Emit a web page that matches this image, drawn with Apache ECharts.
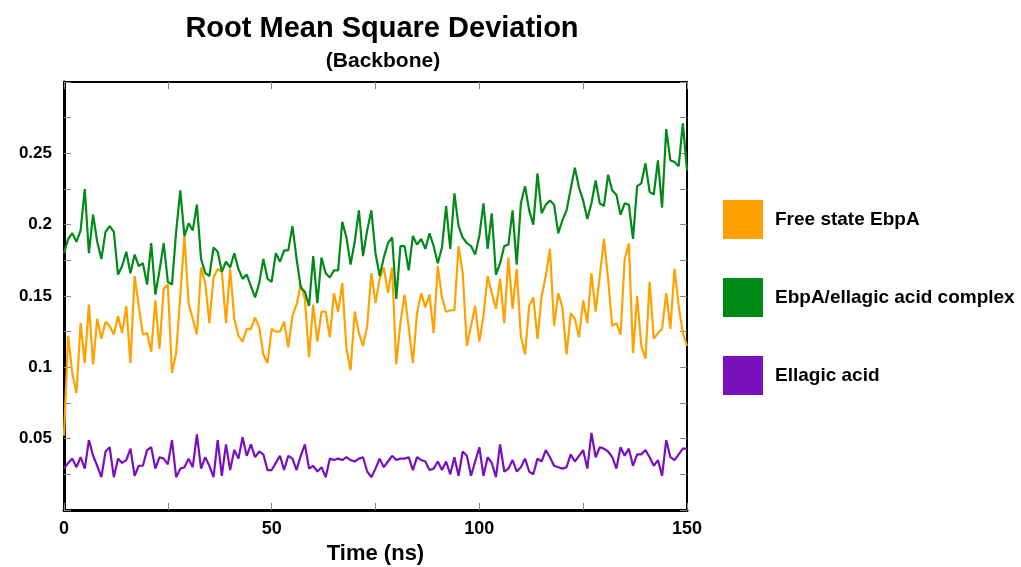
<!DOCTYPE html>
<html>
<head>
<meta charset="utf-8">
<script src="https://cdn.jsdelivr.net/npm/echarts@6/dist/echarts.min.js"></script>
<style>html,body{margin:0;padding:0;background:#fff}#c{width:1021px;height:567px}</style>
</head>
<body>
<div id="c"></div>
<script>
// Time in ns (one sample per ns, index = time)
const seriesNames = ['Free state EbpA', 'EbpA/ellagic acid complex', 'Ellagic acid'];
const xTickLabels = [0, 50, 100, 150];
const yTickLabels = [0.05, 0.1, 0.15, 0.2, 0.25];

const freeState = [
0.052,0.122,0.096,0.082,0.131,0.103,0.144,0.102,0.134,0.120,0.132,0.129,0.123,0.136,0.124,0.143,0.103,0.164,0.143,0.123,0.124,0.111,0.147,0.113,0.155,0.158,
0.096,0.110,0.150,0.192,0.145,0.134,0.123,0.170,0.159,0.131,0.163,0.169,0.167,0.131,0.169,0.134,0.122,0.118,0.127,0.127,0.135,0.128,0.109,0.103,0.127,
0.125,0.125,0.132,0.114,0.136,0.144,0.158,0.148,0.107,0.144,0.118,0.139,0.139,0.121,0.152,0.139,0.159,0.113,0.098,0.139,0.124,0.115,0.129,0.166,0.145,
0.162,0.170,0.152,0.170,0.102,0.131,0.151,0.128,0.103,0.138,0.152,0.142,0.151,0.124,0.171,0.149,0.139,0.140,0.140,0.185,0.166,0.115,0.129,0.143,0.118,
0.136,0.164,0.152,0.141,0.162,0.131,0.177,0.141,0.169,0.122,0.109,0.143,0.149,0.120,0.150,0.164,0.183,0.129,0.152,0.142,0.109,0.138,0.134,0.121,0.147,
0.131,0.166,0.139,0.164,0.190,0.162,0.129,0.131,0.123,0.176,0.187,0.110,0.150,0.115,0.106,0.160,0.120,0.124,0.127,0.152,0.127,0.169,0.143,0.124,0.115
];
const complexEA = [
0.180,0.190,0.194,0.188,0.196,0.225,0.180,0.207,0.188,0.176,0.195,0.199,0.195,0.165,0.171,0.181,0.166,0.179,0.171,0.173,0.158,0.187,0.151,0.168,0.187,0.160,
0.158,0.195,0.224,0.192,0.201,0.196,0.214,0.176,0.166,0.164,0.184,0.181,0.167,0.174,0.170,0.180,0.169,0.162,0.165,0.157,0.149,0.159,0.176,0.162,0.160,
0.180,0.174,0.182,0.182,0.199,0.176,0.156,0.153,0.143,0.178,0.145,0.177,0.166,0.163,0.168,0.168,0.202,0.191,0.172,0.188,0.210,0.178,0.196,0.210,0.180,
0.164,0.177,0.187,0.191,0.148,0.185,0.185,0.168,0.192,0.186,0.190,0.183,0.194,0.185,0.173,0.184,0.213,0.183,0.222,0.199,0.191,0.187,0.185,0.179,0.192,
0.215,0.183,0.208,0.165,0.173,0.185,0.186,0.210,0.172,0.215,0.227,0.210,0.200,0.236,0.208,0.214,0.217,0.214,0.194,0.203,0.210,0.225,0.240,0.226,0.217,
0.204,0.215,0.231,0.215,0.213,0.235,0.224,0.221,0.207,0.215,0.214,0.190,0.227,0.229,0.243,0.223,0.221,0.245,0.212,0.267,0.245,0.244,0.241,0.271,0.238
];
const ellagic = [
0.029,0.033,0.036,0.030,0.037,0.029,0.049,0.038,0.031,0.023,0.041,0.044,0.023,0.036,0.033,0.035,0.043,0.024,0.031,0.031,0.042,0.044,0.029,0.037,0.036,0.032,
0.049,0.023,0.029,0.030,0.036,0.030,0.053,0.029,0.037,0.031,0.023,0.049,0.024,0.046,0.028,0.042,0.036,0.051,0.038,0.046,0.037,0.041,0.039,0.028,0.028,
0.033,0.038,0.028,0.038,0.036,0.028,0.038,0.046,0.029,0.031,0.027,0.030,0.023,0.036,0.035,0.036,0.035,0.037,0.035,0.034,0.036,0.037,0.027,0.023,0.029,
0.036,0.030,0.034,0.038,0.035,0.036,0.036,0.037,0.028,0.037,0.035,0.034,0.028,0.029,0.034,0.028,0.034,0.025,0.037,0.024,0.041,0.038,0.024,0.034,0.044,
0.024,0.037,0.033,0.023,0.046,0.027,0.029,0.035,0.027,0.030,0.036,0.027,0.025,0.036,0.034,0.042,0.037,0.031,0.030,0.029,0.030,0.039,0.034,0.038,0.042,
0.029,0.054,0.037,0.044,0.043,0.041,0.037,0.029,0.044,0.038,0.043,0.031,0.039,0.039,0.042,0.037,0.031,0.035,0.024,0.049,0.037,0.035,0.039,0.043,0.043
];

const colors = ['#FFA200', '#008A17', '#7A0FBE'];
const font = 'Liberation Sans, Arial, sans-serif';
const toPairs = arr => arr.map((v, i) => [i, v]);

const chart = echarts.init(document.getElementById('c'), null, {renderer: 'canvas'});
const tickStyle = {show: true, inside: true, length: 7, lineStyle: {color: '#888', width: 1}};
const near = (v, list) => list.some(t => Math.abs(t - v) < 1e-6);

chart.setOption({
  backgroundColor: '#fff',
  animation: false,
  title: [
    {text: 'Root Mean Square Deviation', left: 377, top: 9, textAlign: 'center',
     textStyle: {fontFamily: font, fontSize: 29, fontWeight: 'bold', color: '#000'}},
    {text: '(Backbone)', left: 378, top: 46, textAlign: 'center',
     textStyle: {fontFamily: font, fontSize: 21, fontWeight: 'bold', color: '#000'}}
  ],
  legend: {
    orient: 'vertical', left: 718, top: 195, icon: 'rect',
    itemWidth: 40, itemHeight: 39, itemGap: 39,
    textStyle: {fontFamily: font, fontSize: 19, fontWeight: 'bold', color: '#000', padding: [0, 0, 0, 7]},
    data: seriesNames
  },
  grid: {left: 64, right: 334, top: 82, bottom: 57, containLabel: false, outerBoundsMode: 'none'},
  xAxis: [
    {type: 'value', min: 0, max: 150, interval: 25, position: 'bottom',
     name: 'Time (ns)', nameLocation: 'middle', nameGap: 32,
     nameTextStyle: {fontFamily: font, fontSize: 22, fontWeight: 'bold', color: '#000'},
     axisLine: {show: true, onZero: false, lineStyle: {color: '#000', width: 3}},
     axisTick: tickStyle, splitLine: {show: false},
     axisLabel: {margin: 10, fontFamily: font, fontSize: 18, fontWeight: 'bold', color: '#000',
       formatter: v => near(v, xTickLabels) ? String(v) : ''}},
    {type: 'value', min: 0, max: 150, interval: 25, position: 'top',
     axisLine: {show: true, onZero: false, lineStyle: {color: '#000', width: 2}},
     axisTick: tickStyle, axisLabel: {show: false}, splitLine: {show: false}}
  ],
  yAxis: [
    {type: 'value', min: 0, max: 0.3, interval: 0.025, position: 'left',
     axisLine: {show: true, onZero: false, lineStyle: {color: '#000', width: 3}},
     axisTick: tickStyle, splitLine: {show: false},
     axisLabel: {margin: 12, fontFamily: font, fontSize: 17, fontWeight: 'bold', color: '#000',
       formatter: v => near(v, yTickLabels) ? String(+v.toFixed(3)) : ''}},
    {type: 'value', min: 0, max: 0.3, interval: 0.025, position: 'right',
     axisLine: {show: true, onZero: false, lineStyle: {color: '#000', width: 2}},
     axisTick: tickStyle, axisLabel: {show: false}, splitLine: {show: false}}
  ],
  series: [
    {name: seriesNames[0], type: 'line', data: toPairs(freeState), symbol: 'none',
     lineStyle: {color: colors[0], width: 2.2}, itemStyle: {color: colors[0]}},
    {name: seriesNames[1], type: 'line', data: toPairs(complexEA), symbol: 'none',
     lineStyle: {color: colors[1], width: 2.2}, itemStyle: {color: colors[1]}},
    {name: seriesNames[2], type: 'line', data: toPairs(ellagic), symbol: 'none',
     lineStyle: {color: colors[2], width: 2.2}, itemStyle: {color: colors[2]}}
  ]
});
</script>
</body>
</html>
